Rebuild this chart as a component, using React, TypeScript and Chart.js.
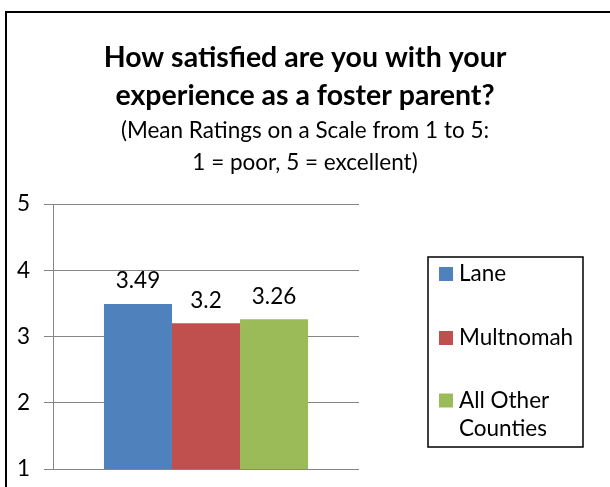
import React, { useEffect, useRef } from "react";
import { Chart, registerables } from "chart.js";

Chart.register(...registerables);

const categories = [""];
const seriesNames = ["Lane", "Multnomah", "All Other Counties"];
const laneValues = [3.49];
const multnomahValues = [3.2];
const otherCountiesValues = [3.26];
const seriesColors = ["#4F81BD", "#C0504D", "#9BBB59"];
const yTickValues = [1, 2, 3, 4, 5];
const titleLines = ["How satisfied are you with your", "experience as a foster parent?"];
const subtitleLines = ["(Mean Ratings on a Scale from 1 to 5:", "1 = poor, 5 = excellent)"];
const legendLines = [["Lane"], ["Multnomah"], ["All Other", "Counties"]];

const FONT = "Lato, 'Open Sans', sans-serif";
const TEXT_SIZE = 22.5;

const framePlugin = {
  id: "frame",
  beforeDraw(chart: any) {
    const { ctx, width, height } = chart;
    ctx.save();
    ctx.fillStyle = "#ffffff";
    ctx.fillRect(0, 0, width, height);
    ctx.strokeStyle = "#000000";
    ctx.lineWidth = 2;
    ctx.beginPath();
    ctx.moveTo(6, height);
    ctx.lineTo(6, 12);
    ctx.lineTo(width, 12);
    ctx.stroke();
    ctx.restore();
  },
};

const dataLabelPlugin = {
  id: "dataLabels",
  afterDatasetsDraw(chart: any) {
    const { ctx } = chart;
    ctx.save();
    ctx.fillStyle = "#000000";
    ctx.font = `${TEXT_SIZE}px ${FONT}`;
    ctx.textAlign = "center";
    ctx.textBaseline = "middle";
    chart.data.datasets.forEach((ds: any, i: number) => {
      const meta = chart.getDatasetMeta(i);
      meta.data.forEach((el: any, j: number) => {
        ctx.fillText(String(ds.data[j]), el.x, el.y - 23);
      });
    });
    ctx.restore();
  },
};

const boxLegendPlugin = {
  id: "boxLegend",
  afterDraw(chart: any) {
    const { ctx, chartArea } = chart;
    const left = chartArea.right + 69;
    const top = 257;
    const w = 155;
    const h = 190;
    ctx.save();
    ctx.strokeStyle = "#000000";
    ctx.lineWidth = 1.5;
    ctx.strokeRect(left, top, w, h);
    ctx.font = `${TEXT_SIZE}px ${FONT}`;
    ctx.textAlign = "left";
    ctx.textBaseline = "middle";
    const rowCenters = [274, 338, 400.5];
    chart.data.datasets.forEach((ds: any, i: number) => {
      const cy = rowCenters[i];
      ctx.fillStyle = ds.backgroundColor;
      ctx.fillRect(left + 11, cy - 7, 14, 14);
      ctx.fillStyle = "#000000";
      legendLines[i].forEach((line, k) => {
        ctx.fillText(line, left + 31, cy + k * 28);
      });
    });
    ctx.restore();
  },
};

export default function App() {
  const canvasRef = useRef<HTMLCanvasElement | null>(null);

  useEffect(() => {
    if (!canvasRef.current) return;
    const values = [laneValues, multnomahValues, otherCountiesValues];
    const chart = new Chart(canvasRef.current, {
      type: "bar",
      data: {
        labels: categories,
        datasets: seriesNames.map((name, i) => ({
          label: name,
          data: values[i],
          backgroundColor: seriesColors[i],
          borderWidth: 0,
          categoryPercentage: 0.667,
          barPercentage: 1,
        })),
      },
      options: {
        responsive: false,
        animation: false,
        layout: { padding: { left: 0, right: 0, top: 0, bottom: 18 } },
        plugins: {
          legend: { display: false },
          tooltip: { enabled: false },
          title: {
            display: true,
            text: titleLines,
            color: "#000000",
            font: { family: FONT, size: 28.5, weight: "bold", lineHeight: "38px" },
            padding: { top: 39, bottom: 0 },
          },
          subtitle: {
            display: true,
            text: subtitleLines,
            color: "#000000",
            font: { family: FONT, size: TEXT_SIZE, weight: "normal", lineHeight: "32px" },
            padding: { top: 0, bottom: 25 },
          },
        },
        scales: {
          x: { display: false },
          y: {
            position: "left",
            min: yTickValues[0],
            max: yTickValues[yTickValues.length - 1],
            afterBuildTicks(scale: any) {
              scale.ticks = yTickValues.map((v) => ({ value: v }));
            },
            afterFit(scale: any) {
              scale.width = 53;
              scale.paddingTop = 0;
              scale.paddingBottom = 0;
            },
            ticks: {
              color: "#000000",
              font: { family: FONT, size: TEXT_SIZE },
              padding: 14,
            },
            grid: { color: "#868686", lineWidth: 1, tickLength: 9, drawTicks: true },
            border: { display: true, color: "#868686", width: 1 },
          },
          spacer: {
            type: "linear",
            position: "right",
            display: true,
            ticks: { display: false },
            grid: { display: false, drawTicks: false },
            border: { display: false },
            afterFit(scale: any) {
              scale.width = 251;
              scale.paddingTop = 0;
              scale.paddingBottom = 0;
            },
          },
        },
      },
      plugins: [framePlugin, dataLabelPlugin, boxLegendPlugin],
    } as any);
    return () => chart.destroy();
  }, []);

  return (
    <div style={{ position: "fixed", left: 0, top: 0, width: 610, height: 487, background: "#fff" }}>
      <canvas ref={canvasRef} width={610} height={487} style={{ display: "block" }} />
    </div>
  );
}
